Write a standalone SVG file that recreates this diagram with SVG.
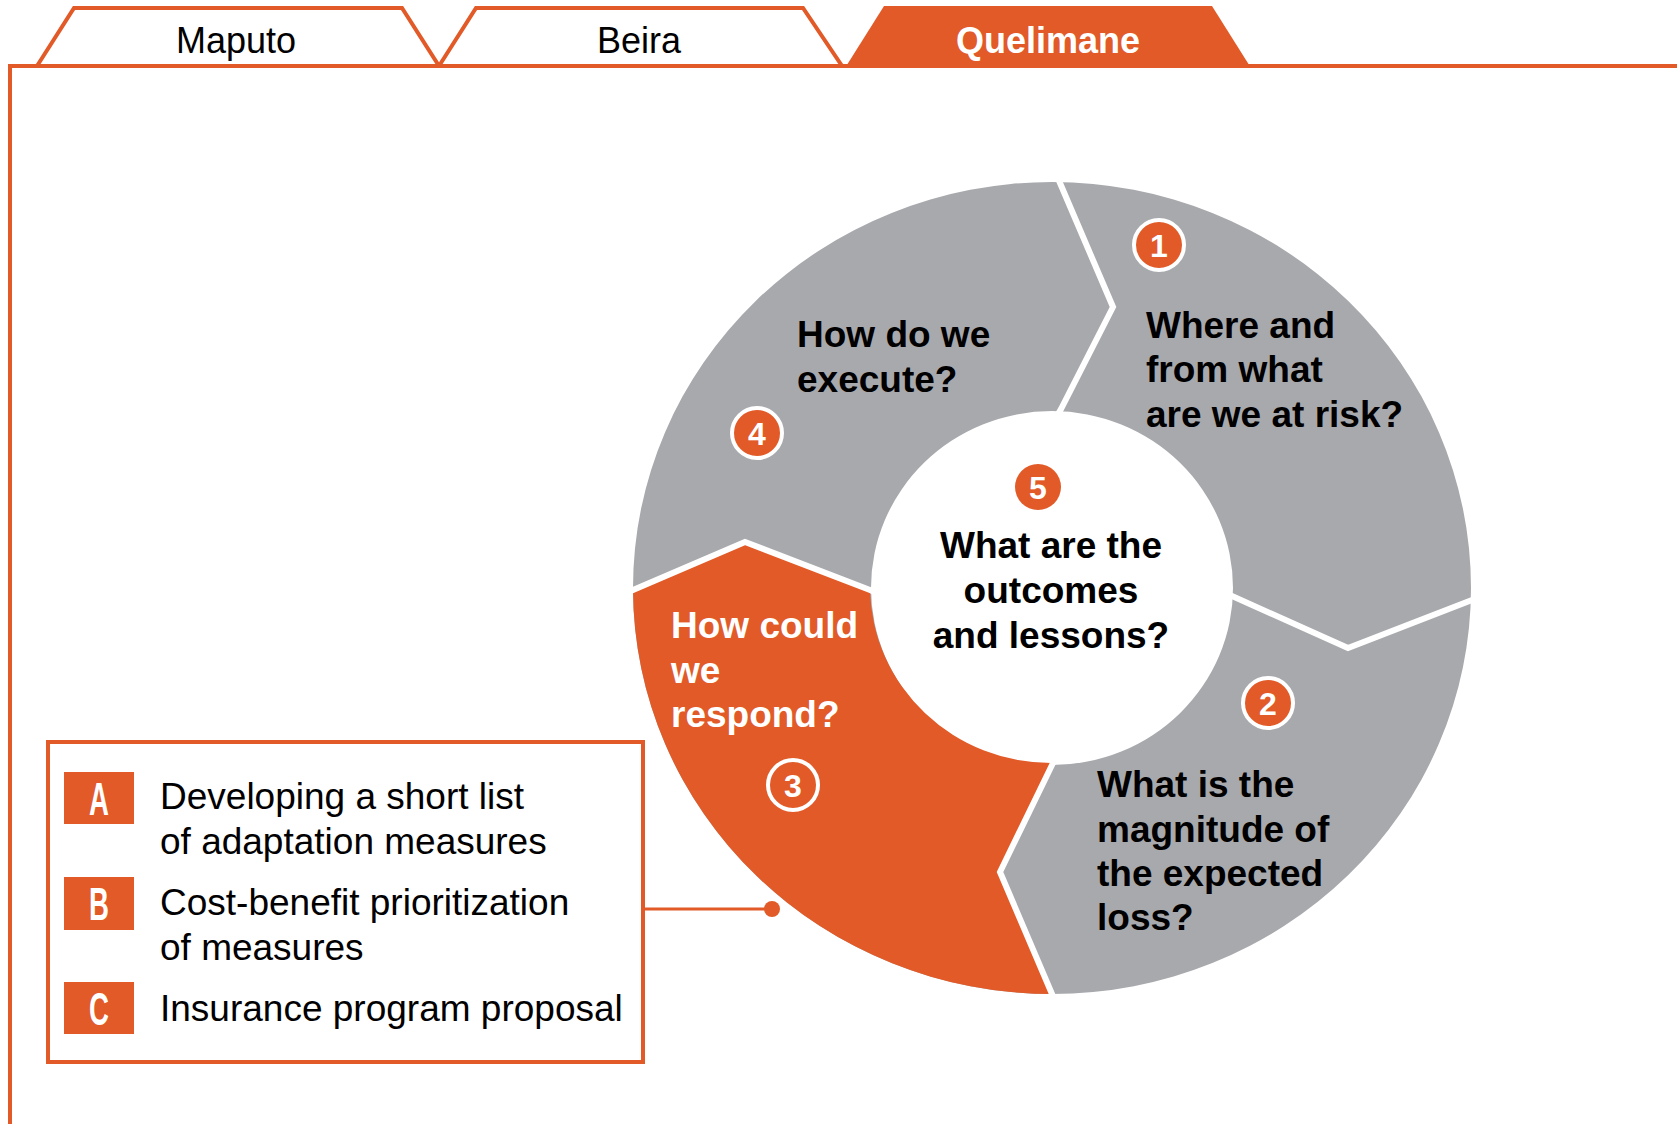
<svg xmlns="http://www.w3.org/2000/svg" width="1677" height="1124" viewBox="0 0 1677 1124">
<style>
.o{fill:#E15A27}
.ln{fill:none;stroke:#E15A27;stroke-width:4}
.tab{font-family:"Liberation Sans",Arial,sans-serif;font-size:36px;text-anchor:middle}
.q{font-family:"Liberation Sans",Arial,sans-serif;font-size:37px;font-weight:bold;fill:#000}
.qw{fill:#fff}
.qc{text-anchor:middle}
.num{font-family:"Liberation Sans",Arial,sans-serif;font-size:32px;font-weight:bold;fill:#fff;text-anchor:middle}
.bd{fill:#E15A27;stroke:#fff;stroke-width:4}
.cut{fill:none;stroke:#fff;stroke-width:6;stroke-linejoin:miter}
.lg{font-family:"Liberation Sans",Arial,sans-serif;font-size:37px;fill:#000}
.let{font-family:"Liberation Sans",Arial,sans-serif;font-size:46px;font-weight:bold;fill:#fff;text-anchor:middle}
</style>
<rect width="1677" height="1124" fill="#fff"/>
<g id="frame">
<polyline class="ln" points="10,1124 10,66 1677,66"/>
</g>
<g id="tab-maputo">
<polygon points="37,66 74,8 402,8 439,66" fill="#fff" stroke="#E15A27" stroke-width="4" stroke-linejoin="miter"/>
<text class="tab" x="236" y="53">Maputo</text>
</g>
<g id="tab-beira">
<polygon points="439,66 476,8 803,8 842,66" fill="#fff" stroke="#E15A27" stroke-width="4" stroke-linejoin="miter"/>
<text class="tab" x="639" y="53">Beira</text>
</g>
<g id="tab-quelimane">
<polygon class="o" points="845,68 884,6 1212,6 1251,68"/>
<text class="tab" x="1048" y="53" font-weight="bold" fill="#fff">Quelimane</text>
</g>
<g id="ring">
<path fill="#A8A9AD" fill-rule="evenodd" d="M633,588 A419,406 0 1 1 1471,588 A419,406 0 1 1 633,588 Z M871,588 A181,177 0 1 0 1233,588 A181,177 0 1 0 871,588 Z"/>
<path class="o" d="M1052,994 A419,406 0 0 1 633,590 L745,542 L870,590 A181,177 0 0 0 1053,763 L1000,872 Z"/>
<polyline class="cut" points="1057,176 1060,183 1113,307 1061,409 1057,416"/>
<polyline class="cut" points="1225,593 1232,596 1348,648 1472,600 1479,597"/>
<polyline class="cut" points="1057,756 1053,763 1000,872 1052,994 1055,1001"/>
<polyline class="cut" points="626,593 633,590 745,542 870,590 877,593"/>
</g>
<g id="step-1">
<circle class="bd" cx="1159" cy="245" r="25"/>
<text class="num" x="1159" y="257">1</text>
<text class="q" x="1146" y="338">Where and</text>
<text class="q" x="1146" y="382">from what</text>
<text class="q" x="1146" y="427">are we at risk?</text>
</g>
<g id="step-2">
<circle class="bd" cx="1268" cy="703" r="25"/>
<text class="num" x="1268" y="715">2</text>
<text class="q" x="1097" y="797">What is the</text>
<text class="q" x="1097" y="842">magnitude of</text>
<text class="q" x="1097" y="886">the expected</text>
<text class="q" x="1097" y="930">loss?</text>
</g>
<g id="step-3">
<circle class="bd" cx="793" cy="785" r="25"/>
<text class="num" x="793" y="797">3</text>
<text class="q qw" x="671" y="638">How could</text>
<text class="q qw" x="671" y="683">we</text>
<text class="q qw" x="671" y="727">respond?</text>
</g>
<g id="step-4">
<circle class="bd" cx="757" cy="433" r="25"/>
<text class="num" x="757" y="445">4</text>
<text class="q" x="797" y="347">How do we</text>
<text class="q" x="797" y="392">execute?</text>
</g>
<g id="step-5">
<circle class="o" cx="1038" cy="487" r="23"/>
<text class="num" x="1038" y="499">5</text>
<text class="q qc" x="1051" y="558">What are the</text>
<text class="q qc" x="1051" y="603">outcomes</text>
<text class="q qc" x="1051" y="648">and lessons?</text>
</g>
<g id="legend">
<rect x="48" y="742" width="595" height="320" fill="#fff" stroke="#E15A27" stroke-width="4"/>
<rect class="o" x="64" y="772" width="70" height="52"/>
<rect class="o" x="64" y="877" width="70" height="53"/>
<rect class="o" x="64" y="982" width="70" height="52"/>
<text class="let" transform="translate(99,815) scale(0.6,1)">A</text>
<text class="let" transform="translate(99,920) scale(0.6,1)">B</text>
<text class="let" transform="translate(99,1025) scale(0.6,1)">C</text>
<text class="lg" x="160" y="809">Developing a short list</text>
<text class="lg" x="160" y="854">of adaptation measures</text>
<text class="lg" x="160" y="915">Cost-benefit prioritization</text>
<text class="lg" x="160" y="960">of measures</text>
<text class="lg" x="160" y="1021">Insurance program proposal</text>
</g>
<g id="connectors">
<line x1="643" y1="909" x2="772" y2="909" stroke="#E15A27" stroke-width="3"/>
<circle class="o" cx="772" cy="909" r="8"/>
</g>
</svg>
